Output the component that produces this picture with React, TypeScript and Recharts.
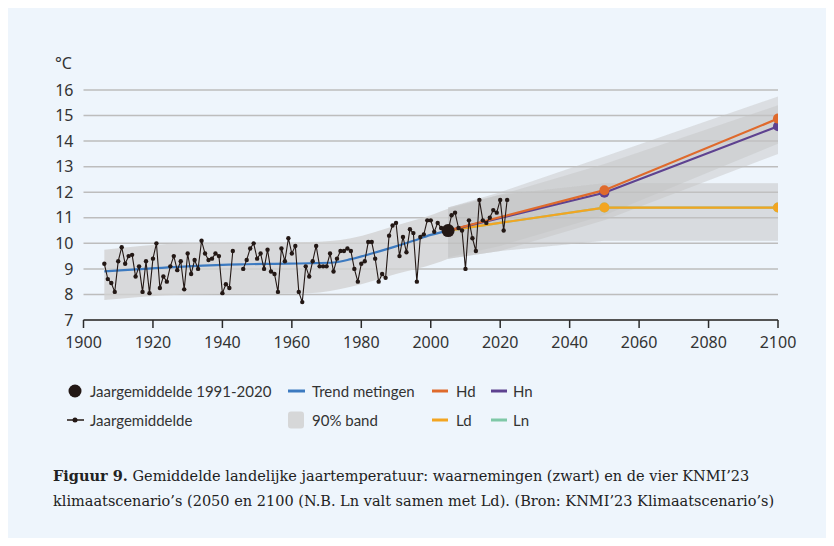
import React from "react";
import { ComposedChart, Line, Area, XAxis, YAxis, CartesianGrid } from "recharts";

// yearly means, starting 1906 (null = no data in the figure)
const firstYear = 1906;
const obsValues: (number | null)[] = [
  9.2, 8.6, 8.45, 8.1, 9.3, 9.85, 9.2, 9.5, 9.55, 8.7,
  9.1, 8.1, 9.3, 8.05, 9.4, 10.0, 8.25, 8.7, 8.5, 9.1,
  9.5, 8.95, 9.3, 8.2, 9.6, 8.8, 9.35, 9.0, 10.1, 9.6,
  9.35, 9.4, 9.6, 9.5, 8.05, 8.4, 8.25, 9.7, null, null,
  9.0, 9.35, 9.8, 10.0, 9.4, 9.6, 9.0, 9.75, 8.9, 8.8,
  8.1, 9.8, 9.3, 10.2, 9.6, 9.9, 8.1, 7.7, 9.1, 8.7,
  9.3, 9.9, 9.1, 9.1, 9.1, 9.6, 8.9, 9.4, 9.7, 9.7,
  9.8, 9.7, 9.0, 8.5, 9.2, 9.3, 10.05, 10.05, 9.4, 8.5,
  8.8, 8.65, 10.3, 10.7, 10.8, 9.5, 10.25, 9.65, 10.55, 10.4,
  8.5, 10.25, 10.35, 10.9, 10.9, 10.45, 10.8, 10.6, 10.55, 10.5,
  11.1, 11.2, 10.6, 10.5, 9.0, 10.9, 10.2, 9.7, 11.7, 10.9,
  10.8, 11.0, 11.3, 11.2, 11.7, 10.5, 11.7,
];

const refYear = 2005;
const refValue = 10.5;

const trendYears = [1906, 1915, 1930, 1945, 1955, 1965, 1972, 1977, 1983, 1989, 1995, 2000, 2005];
const trendValues = [8.9, 8.98, 9.1, 9.18, 9.2, 9.22, 9.25, 9.38, 9.6, 9.84, 10.1, 10.33, 10.5];

const histBandYears = [1906, 1930, 1965, 1977, 1990, 2001, 2005];
const histBandLow = [7.78, 8.0, 8.05, 8.3, 8.8, 9.2, 9.4];
const histBandHigh = [9.75, 10.0, 10.05, 10.2, 10.7, 11.15, 11.35];

const scenYears = [2005, 2050, 2100];
const hd = [10.5, 12.08, 14.88];
const hn = [10.5, 11.98, 14.58];
const ld = [10.5, 11.4, 11.4];
const ln = [10.5, 11.4, 11.4];

const scenBandYears = [2005, 2020, 2050, 2100];
const hdLow = [9.45, 9.9, 11.1, 13.9];
const hdHigh = [11.4, 12.0, 13.4, 15.75];
const hnLow = [9.4, 9.7, 10.9, 13.5];
const hnHigh = [11.35, 11.9, 13.1, 15.4];
const ldLow = [9.4, 9.7, 10.1, 10.1];
const ldHigh = [11.4, 11.9, 12.35, 12.35];
const lnLow = [9.4, 9.7, 10.1, 10.1];
const lnHigh = [11.4, 11.9, 12.35, 12.35];

const xTicks = [1900, 1920, 1940, 1960, 1980, 2000, 2020, 2040, 2060, 2080, 2100];
const yTicks = [7, 8, 9, 10, 11, 12, 13, 14, 15, 16];

const C = {
  obs: "#231815",
  trend: "#3c7ac0",
  hd: "#df6a2c",
  hn: "#5e4290",
  ld: "#f3a521",
  ln: "#7fc8a7",
  band: "#c4c4c4",
};

const FONT = "'Noto Sans', sans-serif";
const LEGEND_FONT = "Lato, sans-serif";

function buildData() {
  const rows: Record<number, any> = {};
  const row = (y: number) => (rows[y] = rows[y] || { year: y });
  obsValues.forEach((v, i) => {
    row(firstYear + i).obs = v;
  });
  row(refYear).ref = refValue;
  trendYears.forEach((y, i) => (row(y).trend = trendValues[i]));
  histBandYears.forEach((y, i) => (row(y).histBand = [histBandLow[i], histBandHigh[i]]));
  scenYears.forEach((y, i) => {
    const r = row(y);
    r.hd = hd[i];
    r.hn = hn[i];
    r.ld = ld[i];
    r.ln = ln[i];
  });
  scenBandYears.forEach((y, i) => {
    const r = row(y);
    r.hdBand = [hdLow[i], hdHigh[i]];
    r.hnBand = [hnLow[i], hnHigh[i]];
    r.ldBand = [ldLow[i], ldHigh[i]];
    r.lnBand = [lnLow[i], lnHigh[i]];
  });
  return Object.values(rows).sort((a: any, b: any) => a.year - b.year);
}

const data = buildData();

const scenDot = (color: string, name: string) => (p: any) => {
  if (p.cy == null || p.payload.year === refYear) return <g key={`${name}-${p.index}`} />;
  return <circle key={`${name}-${p.index}`} cx={p.cx} cy={p.cy} r={5} fill={color} />;
};

const obsDot = (p: any) => {
  if (p.cy == null || p.value == null) return <g key={`o-${p.index}`} />;
  return <circle key={`o-${p.index}`} cx={p.cx} cy={p.cy} r={2.2} fill={C.obs} />;
};

function LegendOverlay() {
  const t = { fontFamily: LEGEND_FONT, fontSize: 15, fill: "#333" };
  const r1 = 383;
  const r2 = 412;
  return (
    <svg width={818} height={530} style={{ position: "absolute", left: 0, top: 0, pointerEvents: "none" }}>
      <text x={47} y={61} fontFamily={FONT} fontSize={16} fill="#333">°C</text>

      <circle cx={67} cy={r1} r={6.5} fill={C.obs} />
      <text x={82} y={r1 + 5.5} {...t}>Jaargemiddelde 1991-2020</text>
      <line x1={59} x2={76} y1={r2} y2={r2} stroke={C.obs} strokeWidth={1.5} />
      <circle cx={67} cy={r2} r={2.5} fill={C.obs} />
      <text x={82} y={r2 + 5.5} {...t}>Jaargemiddelde</text>

      <line x1={280} x2={297} y1={r1} y2={r1} stroke={C.trend} strokeWidth={3} />
      <text x={304} y={r1 + 5.5} {...t}>Trend metingen</text>
      <rect x={280} y={r2 - 8.5} width={16} height={17} rx={3} fill="#d6d7d8" />
      <text x={304} y={r2 + 5.5} {...t}>90% band</text>

      <line x1={424} x2={440} y1={r1} y2={r1} stroke={C.hd} strokeWidth={3} />
      <text x={448} y={r1 + 5.5} {...t}>Hd</text>
      <line x1={424} x2={440} y1={r2} y2={r2} stroke={C.ld} strokeWidth={3} />
      <text x={448} y={r2 + 5.5} {...t}>Ld</text>

      <line x1={483} x2={499} y1={r1} y2={r1} stroke={C.hn} strokeWidth={3} />
      <text x={505} y={r1 + 5.5} {...t}>Hn</text>
      <line x1={483} x2={499} y1={r2} y2={r2} stroke={C.ln} strokeWidth={3} />
      <text x={505} y={r2 + 5.5} {...t}>Ln</text>

      <text x={45} y={473} fontFamily="'DejaVu Serif', serif" fontSize={14.5} fill="#222">
        <tspan fontWeight="bold">Figuur 9.</tspan>
        <tspan>{"  Gemiddelde landelijke jaartemperatuur: waarnemingen (zwart) en de vier KNMI’23"}</tspan>
      </text>
      <text x={45} y={498} fontFamily="'DejaVu Serif', serif" fontSize={14.5} fill="#222">
        klimaatscenario’s (2050 en 2100 (N.B. Ln valt samen met Ld). (Bron: KNMI’23 Klimaatscenario’s)
      </text>
    </svg>
  );
}

export default function App() {
  return (
    <div style={{ position: "relative", width: 818, height: 530, background: "#eef5fc" }}>
      <ComposedChart width={818} height={360} data={data} margin={{ top: 82, right: 48, bottom: 8, left: 35.5 }}>
        <CartesianGrid vertical={false} stroke="#bdbdbd" strokeWidth={1.5} />
        <XAxis
          type="number"
          dataKey="year"
          domain={[1900, 2100]}
          ticks={xTicks}
          allowDataOverflow
          height={40}
          tickSize={8}
          tickMargin={9}
          axisLine={{ stroke: "#2b2b2b", strokeWidth: 1.5 }}
          tickLine={{ stroke: "#2b2b2b", strokeWidth: 1.5 }}
          tick={{ fontSize: 16, fill: "#333", fontFamily: FONT }}
        />
        <YAxis
          type="number"
          domain={[7, 16]}
          ticks={yTicks}
          width={40}
          axisLine={false}
          tickLine={false}
          tickSize={0}
          tickMargin={10}
          tick={{ fontSize: 16, fill: "#333", fontFamily: FONT }}
        />

        <Area dataKey="histBand" type="monotone" connectNulls stroke="none" fill="#d2d2d2" fillOpacity={0.8} isAnimationActive={false} />
        <Area dataKey="hdBand" type="linear" connectNulls stroke="none" fill={C.band} fillOpacity={0.45} isAnimationActive={false} />
        <Area dataKey="hnBand" type="linear" connectNulls stroke="none" fill={C.band} fillOpacity={0.45} isAnimationActive={false} />
        <Area dataKey="ldBand" type="linear" connectNulls stroke="none" fill={C.band} fillOpacity={0.3} isAnimationActive={false} />
        <Area dataKey="lnBand" type="linear" connectNulls stroke="none" fill={C.band} fillOpacity={0.3} isAnimationActive={false} />

        <Line dataKey="trend" type="monotone" connectNulls stroke={C.trend} strokeWidth={2.2} dot={false} isAnimationActive={false} />
        <Line dataKey="ln" type="linear" connectNulls stroke={C.ln} strokeWidth={2.2} dot={scenDot(C.ln, "ln")} isAnimationActive={false} />
        <Line dataKey="ld" type="linear" connectNulls stroke={C.ld} strokeWidth={2.2} dot={scenDot(C.ld, "ld")} isAnimationActive={false} />
        <Line dataKey="hn" type="linear" connectNulls stroke={C.hn} strokeWidth={2.2} dot={scenDot(C.hn, "hn")} isAnimationActive={false} />
        <Line dataKey="hd" type="linear" connectNulls stroke={C.hd} strokeWidth={2.2} dot={scenDot(C.hd, "hd")} isAnimationActive={false} />
        <Line dataKey="obs" type="linear" stroke={C.obs} strokeWidth={1.1} dot={obsDot} activeDot={false} isAnimationActive={false} />
        <Line dataKey="ref" type="linear" stroke="none" dot={{ r: 6.5, fill: C.obs, stroke: "none" }} isAnimationActive={false} />
      </ComposedChart>
      <LegendOverlay />
    </div>
  );
}
